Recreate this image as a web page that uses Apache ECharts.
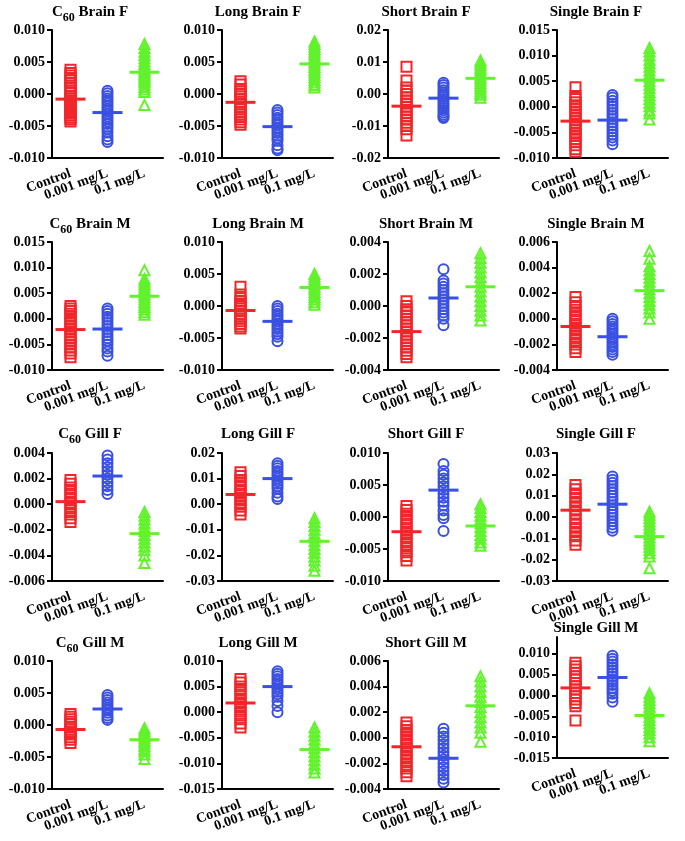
<!DOCTYPE html>
<html><head><meta charset="utf-8">
<script src="https://cdn.jsdelivr.net/npm/echarts@6/dist/echarts.min.js"></script>
<style>html,body{margin:0;padding:0;background:#fff}#c{width:685px;height:841px}</style>
</head><body><div id="c"></div>
<script>
const categories = ['Control', '0.001 mg/L', '0.1 mg/L'];
const panelTitles = ['C60 Brain F','Long Brain F','Short Brain F','Single Brain F','C60 Brain M','Long Brain M','Short Brain M','Single Brain M','C60 Gill F','Long Gill F','Short Gill F','Single Gill F','C60 Gill M','Long Gill M','Short Gill M','Single Gill M'];
// y-axis [min, max, interval, decimals]
const yAxes = [
 [-0.01,0.01,0.005,3],[-0.01,0.01,0.005,3],[-0.02,0.02,0.01,2],[-0.01,0.015,0.005,3],
 [-0.01,0.015,0.005,3],[-0.01,0.01,0.005,3],[-0.004,0.004,0.002,3],[-0.004,0.006,0.002,3],
 [-0.006,0.004,0.002,3],[-0.03,0.02,0.01,2],[-0.01,0.01,0.005,3],[-0.03,0.03,0.01,2],
 [-0.01,0.01,0.005,3],[-0.015,0.01,0.005,3],[-0.004,0.006,0.002,3],[-0.015,0.014,0.005,3]
];
// means [Control, 0.001, 0.1]
const means = [
 [-0.0008,-0.0029,0.0034],[-0.0013,-0.0051,0.0047],[-0.0038,-0.0013,0.0049],[-0.0028,-0.0026,0.0052],
 [-0.0021,-0.0020,0.0044],[-0.0007,-0.0024,0.0029],[-0.0016,0.0005,0.0012],[-0.0006,-0.0014,0.0022],
 [0.0002,0.0022,-0.0023],[0.0038,0.0100,-0.0145],[-0.0023,0.0042,-0.0014],[0.0032,0.0060,-0.0092],
 [-0.0007,0.0025,-0.0023],[0.0018,0.0050,-0.0073],[-0.0007,-0.0016,0.0025],[0.0018,0.0043,-0.0048]
];
// Individual values per panel: control / 0.001 mg/L / 0.1 mg/L
const c60BrainF_ctrl = [0.0038,0.0033,0.0029,0.0025,0.0021,0.0017,0.0013,0.0009,0.0005,0.0001,-0.0003,-0.0007,-0.0010,-0.0013,-0.0016,-0.0019,-0.0022,-0.0025,-0.0028,-0.0031,-0.0034,-0.0037,-0.0040,-0.0043];
const c60BrainF_low = [0.0005,0.0001,-0.0003,-0.0007,-0.0011,-0.0015,-0.0019,-0.0023,-0.0027,-0.0031,-0.0035,-0.0039,-0.0043,-0.0047,-0.0051,-0.0055,-0.0060,-0.0066,-0.0071,-0.0075];
const c60BrainF_high = [0.0078,0.0072,0.0066,0.0061,0.0056,0.0051,0.0047,0.0043,0.0040,0.0037,0.0034,0.0031,0.0028,0.0025,0.0022,0.0019,0.0015,0.0011,0.0007,0.0003,-0.0017];
const longBrainF_ctrl = [0.0020,0.0015,0.0008,0.0004,0.0000,-0.0004,-0.0008,-0.0012,-0.0016,-0.0020,-0.0024,-0.0028,-0.0032,-0.0036,-0.0040,-0.0044,-0.0048];
const longBrainF_low = [-0.0025,-0.0029,-0.0033,-0.0037,-0.0041,-0.0045,-0.0049,-0.0053,-0.0057,-0.0061,-0.0065,-0.0069,-0.0073,-0.0080,-0.0085,-0.0088];
const longBrainF_high = [0.0082,0.0078,0.0074,0.0070,0.0066,0.0062,0.0058,0.0054,0.0050,0.0046,0.0042,0.0038,0.0034,0.0030,0.0026,0.0022,0.0018,0.0014,0.0010];
const shortBrainF_ctrl = [0.0085,0.0042,0.0020,0.0010,0.0000,-0.0010,-0.0020,-0.0030,-0.0040,-0.0050,-0.0060,-0.0070,-0.0080,-0.0090,-0.0100,-0.0110,-0.0130];
const shortBrainF_low = [0.0035,0.0028,0.0020,0.0012,0.0005,-0.0002,-0.0009,-0.0016,-0.0023,-0.0030,-0.0037,-0.0044,-0.0051,-0.0058,-0.0065,-0.0070,-0.0075];
const shortBrainF_high = [0.0105,0.0098,0.0090,0.0082,0.0074,0.0066,0.0058,0.0050,0.0042,0.0034,0.0026,0.0018,0.0010,0.0004,-0.0002,-0.0012];
const singleBrainF_ctrl = [0.0038,0.0021,0.0015,0.0009,0.0003,-0.0003,-0.0009,-0.0015,-0.0021,-0.0027,-0.0033,-0.0039,-0.0045,-0.0051,-0.0057,-0.0063,-0.0069,-0.0075,-0.0083,-0.0088];
const singleBrainF_low = [0.0023,0.0018,0.0012,0.0006,0.0000,-0.0006,-0.0012,-0.0018,-0.0024,-0.0030,-0.0036,-0.0042,-0.0048,-0.0054,-0.0060,-0.0066,-0.0073];
const singleBrainF_high = [0.0115,0.0108,0.0100,0.0092,0.0085,0.0078,0.0071,0.0064,0.0057,0.0050,0.0043,0.0036,0.0029,0.0022,0.0015,0.0008,0.0001,-0.0007,-0.0013,-0.0025];
const c60BrainM_ctrl = [0.0025,0.0020,0.0015,0.0010,0.0004,-0.0002,-0.0008,-0.0014,-0.0020,-0.0026,-0.0032,-0.0038,-0.0044,-0.0050,-0.0056,-0.0062,-0.0068,-0.0075];
const c60BrainM_low = [0.0020,0.0015,0.0010,0.0004,-0.0002,-0.0008,-0.0014,-0.0020,-0.0026,-0.0032,-0.0038,-0.0044,-0.0050,-0.0058,-0.0064,-0.0072];
const c60BrainM_high = [0.0095,0.0078,0.0073,0.0068,0.0063,0.0058,0.0053,0.0048,0.0043,0.0038,0.0033,0.0028,0.0023,0.0018,0.0013,0.0008];
const longBrainM_ctrl = [0.0030,0.0018,0.0012,0.0008,0.0004,0.0000,-0.0004,-0.0008,-0.0012,-0.0016,-0.0020,-0.0024,-0.0028,-0.0032,-0.0035];
const longBrainM_low = [0.0000,-0.0004,-0.0008,-0.0012,-0.0016,-0.0020,-0.0024,-0.0028,-0.0032,-0.0036,-0.0040,-0.0044,-0.0048,-0.0055];
const longBrainM_high = [0.0050,0.0046,0.0042,0.0038,0.0034,0.0030,0.0026,0.0022,0.0018,0.0014,0.0010,0.0006,0.0002];
const shortBrainM_ctrl = [0.0003,0.0000,-0.0002,-0.0004,-0.0006,-0.0008,-0.0010,-0.0012,-0.0014,-0.0016,-0.0018,-0.0020,-0.0022,-0.0024,-0.0026,-0.0028,-0.0030,-0.0032];
const shortBrainM_low = [0.0023,0.0016,0.0014,0.0012,0.0010,0.0008,0.0006,0.0004,0.0002,0.0000,-0.0002,-0.0004,-0.0006,-0.0008,-0.0012];
const shortBrainM_high = [0.0033,0.0030,0.0027,0.0024,0.0021,0.0018,0.0015,0.0012,0.0009,0.0006,0.0003,0.0000,-0.0003,-0.0006,-0.0009];
const singleBrainM_ctrl = [0.0017,0.0013,0.0010,0.0007,0.0004,0.0001,-0.0002,-0.0005,-0.0008,-0.0011,-0.0014,-0.0017,-0.0020,-0.0023,-0.0026];
const singleBrainM_low = [0.0000,-0.0002,-0.0004,-0.0006,-0.0008,-0.0010,-0.0012,-0.0014,-0.0016,-0.0018,-0.0020,-0.0022,-0.0024,-0.0026,-0.0028];
const singleBrainM_high = [0.0053,0.0047,0.0041,0.0038,0.0035,0.0032,0.0029,0.0026,0.0023,0.0020,0.0017,0.0014,0.0011,0.0008,0.0005,0.0000];
const c60GillF_ctrl = [0.0019,0.0016,0.0013,0.0010,0.0007,0.0004,0.0001,-0.0002,-0.0005,-0.0008,-0.0011,-0.0014];
const c60GillF_low = [0.0038,0.0035,0.0032,0.0029,0.0026,0.0023,0.0020,0.0017,0.0014,0.0011,0.0008];
const c60GillF_high = [-0.0006,-0.0009,-0.0012,-0.0015,-0.0018,-0.0021,-0.0024,-0.0027,-0.0030,-0.0033,-0.0036,-0.0040,-0.0046];
const longGillF_ctrl = [0.0125,0.0110,0.0095,0.0080,0.0065,0.0050,0.0035,0.0020,0.0005,-0.0010,-0.0025,-0.0040];
const longGillF_low = [0.0160,0.0150,0.0140,0.0130,0.0120,0.0110,0.0100,0.0090,0.0080,0.0070,0.0060,0.0045,0.0030,0.0020];
const longGillF_high = [-0.0055,-0.0070,-0.0085,-0.0100,-0.0115,-0.0130,-0.0145,-0.0160,-0.0175,-0.0190,-0.0205,-0.0220,-0.0240,-0.0260];
const shortGillF_ctrl = [0.0017,0.0011,0.0005,-0.0001,-0.0007,-0.0013,-0.0019,-0.0025,-0.0031,-0.0037,-0.0043,-0.0049,-0.0055,-0.0061,-0.0068];
const shortGillF_low = [0.0083,0.0072,0.0066,0.0060,0.0054,0.0048,0.0042,0.0036,0.0030,0.0024,0.0018,0.0010,0.0003,-0.0002,-0.0022];
const shortGillF_high = [0.0020,0.0014,0.0008,0.0002,-0.0004,-0.0010,-0.0016,-0.0022,-0.0028,-0.0034,-0.0040,-0.0045];
const singleGillF_ctrl = [0.0150,0.0130,0.0110,0.0090,0.0070,0.0050,0.0030,0.0010,-0.0010,-0.0030,-0.0050,-0.0070,-0.0090,-0.0110,-0.0130];
const singleGillF_low = [0.0190,0.0175,0.0160,0.0145,0.0130,0.0115,0.0100,0.0085,0.0070,0.0055,0.0040,0.0025,0.0010,-0.0005,-0.0020,-0.0035,-0.0050,-0.0065];
const singleGillF_high = [0.0025,0.0010,-0.0005,-0.0020,-0.0035,-0.0050,-0.0065,-0.0080,-0.0095,-0.0110,-0.0125,-0.0140,-0.0155,-0.0170,-0.0185,-0.0240];
const c60GillM_ctrl = [0.0017,0.0013,0.0009,0.0005,0.0001,-0.0003,-0.0007,-0.0011,-0.0015,-0.0019,-0.0023,-0.0028];
const c60GillM_low = [0.0047,0.0043,0.0039,0.0035,0.0031,0.0027,0.0023,0.0019,0.0015,0.0011,0.0008];
const c60GillM_high = [-0.0005,-0.0009,-0.0013,-0.0017,-0.0021,-0.0025,-0.0029,-0.0033,-0.0037,-0.0041,-0.0046,-0.0053];
const longGillM_ctrl = [0.0065,0.0058,0.0050,0.0042,0.0034,0.0026,0.0018,0.0010,0.0002,-0.0006,-0.0014,-0.0022,-0.0030];
const longGillM_low = [0.0080,0.0075,0.0070,0.0065,0.0060,0.0055,0.0050,0.0045,0.0040,0.0035,0.0030,0.0022,0.0012,0.0000];
const longGillM_high = [-0.0030,-0.0038,-0.0046,-0.0054,-0.0062,-0.0070,-0.0078,-0.0086,-0.0094,-0.0102,-0.0110,-0.0118];
const shortGillM_ctrl = [0.0012,0.0009,0.0006,0.0003,0.0000,-0.0003,-0.0006,-0.0009,-0.0012,-0.0015,-0.0018,-0.0021,-0.0024,-0.0027,-0.0030];
const shortGillM_low = [0.0007,0.0004,0.0001,-0.0002,-0.0005,-0.0008,-0.0011,-0.0014,-0.0017,-0.0020,-0.0023,-0.0026,-0.0029,-0.0032,-0.0035];
const shortGillM_high = [0.0048,0.0044,0.0040,0.0036,0.0032,0.0028,0.0024,0.0020,0.0016,0.0012,0.0008,0.0004,-0.0003];
const singleGillM_ctrl = [0.0078,0.0070,0.0062,0.0054,0.0046,0.0038,0.0030,0.0022,0.0014,0.0006,-0.0002,-0.0010,-0.0018,-0.0026,-0.0060];
const singleGillM_low = [0.0095,0.0088,0.0081,0.0074,0.0067,0.0060,0.0053,0.0046,0.0039,0.0032,0.0025,0.0018,0.0011,0.0004,-0.0005,-0.0015];
const singleGillM_high = [0.0005,-0.0003,-0.0011,-0.0019,-0.0027,-0.0035,-0.0043,-0.0051,-0.0059,-0.0067,-0.0075,-0.0083,-0.0091,-0.0100,-0.0110];

const panelData = [
 [c60BrainF_ctrl,c60BrainF_low,c60BrainF_high],[longBrainF_ctrl,longBrainF_low,longBrainF_high],
 [shortBrainF_ctrl,shortBrainF_low,shortBrainF_high],[singleBrainF_ctrl,singleBrainF_low,singleBrainF_high],
 [c60BrainM_ctrl,c60BrainM_low,c60BrainM_high],[longBrainM_ctrl,longBrainM_low,longBrainM_high],
 [shortBrainM_ctrl,shortBrainM_low,shortBrainM_high],[singleBrainM_ctrl,singleBrainM_low,singleBrainM_high],
 [c60GillF_ctrl,c60GillF_low,c60GillF_high],[longGillF_ctrl,longGillF_low,longGillF_high],
 [shortGillF_ctrl,shortGillF_low,shortGillF_high],[singleGillF_ctrl,singleGillF_low,singleGillF_high],
 [c60GillM_ctrl,c60GillM_low,c60GillM_high],[longGillM_ctrl,longGillM_low,longGillM_high],
 [shortGillM_ctrl,shortGillM_low,shortGillM_high],[singleGillM_ctrl,singleGillM_low,singleGillM_high]
];

const colors = ['#f0262b', '#3a50e2', '#62f22e'];
const symbols = ['rect', 'circle', 'triangle'];
const FONT = 'Liberation Serif';

// layout
const colLeft = [52, 222, 388, 557];
const colTitleX = [90, 258, 426, 596];
const rowTop = [30, 242, 453, 661];
const rowTitleTop = [5, 217, 427, 636];
const plotW = 111, plotH = 128;

const grids = [], xAxes = [], yAxesOpt = [], series = [], titles = [];
for (let i = 0; i < 16; i++) {
  const r = Math.floor(i / 4), c = i % 4;
  let top = rowTop[r], h = plotH, tTop = rowTitleTop[r];
  if (i === 15) { top = 637; h = 121; tTop = 621; }
  grids.push({ left: colLeft[c], top: top, width: plotW, height: h });
  const t = panelTitles[i];
  const text = t.startsWith('C60') ? '{b|C}{s|60}{b|' + t.slice(3) + '}' : '{b|' + t + '}';
  titles.push({
    text: text, left: colTitleX[c], top: tTop, textAlign: 'center', padding: 0,
    textStyle: { rich: {
      b: { fontFamily: FONT, fontWeight: 'bold', fontSize: 15, color: '#000', lineHeight: 18, verticalAlign: 'top' },
      s: { fontFamily: FONT, fontWeight: 'bold', fontSize: 12, color: '#000', lineHeight: 18, padding: [7, 0, 0, 0], verticalAlign: 'top' }
    } }
  });
  xAxes.push({
    type: 'category', gridIndex: i, data: categories, boundaryGap: true,
    axisLine: { onZero: false, lineStyle: { color: '#000', width: 2 } },
    axisTick: { alignWithLabel: true, length: 5, lineStyle: { color: '#000', width: 2 } },
    axisLabel: { interval: 0, rotate: 20, margin: 15, color: '#000', fontFamily: FONT, fontWeight: 'bold', fontSize: 14 },
    splitLine: { show: false }
  });
  const ya = yAxes[i];
  const yopt = {
    type: 'value', gridIndex: i, min: ya[0], max: ya[1], interval: ya[2],
    axisLine: { show: true, lineStyle: { color: '#000', width: 2 } },
    axisTick: { show: true, length: 5, lineStyle: { color: '#000', width: 2 } },
    axisLabel: { margin: 7, color: '#000', fontFamily: FONT, fontWeight: 'bold', fontSize: 14,
      formatter: (v) => v.toFixed(ya[3]) },
    splitLine: { show: false }
  };
  if (i === 15) {
    const vals = [-0.015, -0.01, -0.005, 0, 0.005, 0.01];
    yopt.axisTick.customValues = vals;
    yopt.axisLabel.customValues = vals;
  }
  yAxesOpt.push(yopt);
  for (let g = 0; g < 3; g++) {
    series.push({
      type: 'scatter', xAxisIndex: i, yAxisIndex: i, symbol: symbols[g], symbolSize: 10,
      itemStyle: { color: 'rgba(255,255,255,0)', borderColor: colors[g], borderWidth: 2, opacity: 1 },
      data: panelData[i][g].map(v => [g, v]), z: 2, silent: true
    });
    series.push({
      type: 'scatter', xAxisIndex: i, yAxisIndex: i, symbol: 'rect', symbolSize: [30, 3],
      itemStyle: { color: colors[g], opacity: 1 }, data: [[g, means[i][g]]], z: 3, silent: true
    });
  }
}

const chart = echarts.init(document.getElementById('c'), null, { renderer: 'canvas' });
chart.setOption({
  animation: false, backgroundColor: '#fff',
  title: titles, grid: grids, xAxis: xAxes, yAxis: yAxesOpt, series: series
});
</script>
</body></html>
